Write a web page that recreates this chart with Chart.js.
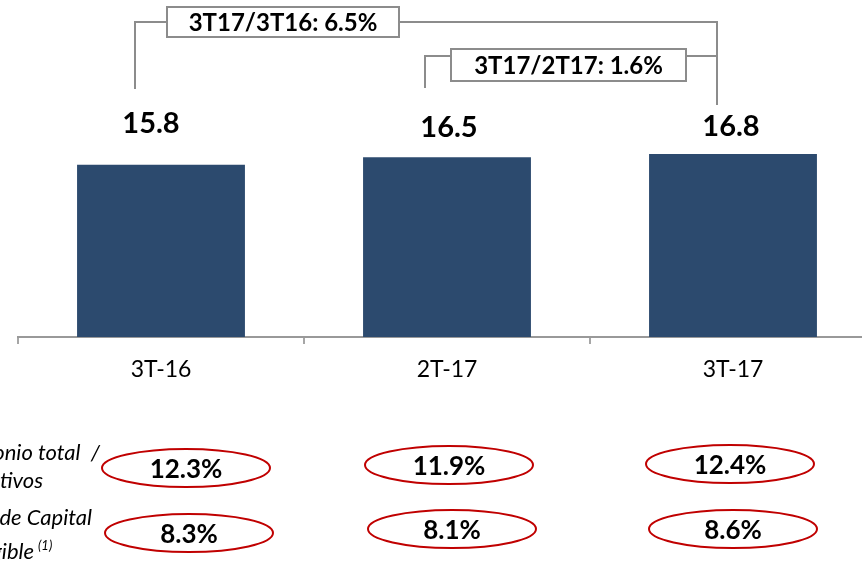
<!DOCTYPE html>
<html><head><meta charset="utf-8">
<script src="https://cdn.jsdelivr.net/npm/chart.js@4/dist/chart.umd.min.js"></script>
<style>
html,body{margin:0;padding:0;background:#fff;overflow:hidden;width:862px;height:564px}
#wrap{position:relative;width:880px;height:564px}
canvas{display:block}
</style></head><body>
<div id="wrap"><canvas id="c" width="880" height="564" style="width:880px;height:564px"></canvas></div>
<script>
// ---- data ----
const categories = ['3T-16', '2T-17', '3T-17'];
const values = [15.8, 16.5, 16.8];
const growthLabels = ['3T17/3T16: 6.5%', '3T17/2T17: 1.6%'];
const ratioEquity = [12.3, 11.9, 12.4];
const ratioCapital = [8.3, 8.1, 8.6];
const rowLabels = [['Patrimonio total  /', 'Activos'], ['Índice de Capital', 'Tangible']];
const footnoteMark = '(1)';

const annot = {
  id: 'annot',
  afterDraw(chart) {
    const ctx = chart.ctx;
    const xs = chart.scales.x, ys = chart.scales.y;
    const cx = i => xs.getPixelForValue(i);
    ctx.save();
    // bar value labels
    const ldx = [-10, 2, -2], lgap = [32, 20, 18];
    ctx.fillStyle = '#000';
    ctx.font = 'bold 29px Lato';
    ctx.textAlign = 'center';
    ctx.textBaseline = 'alphabetic';
    values.forEach((v, i) => {
      ctx.fillText(v.toFixed(1), cx(i) + ldx[i], ys.getPixelForValue(v) - lgap[i]);
    });
    // brackets
    ctx.strokeStyle = '#8c8c8c';
    ctx.lineWidth = 2;
    const rx = cx(2) - 16;
    const ax = cx(0) - 26, bx = cx(1) - 22;
    const ay = 22, by = 56;
    ctx.beginPath();
    ctx.moveTo(ax, 89); ctx.lineTo(ax, ay); ctx.lineTo(rx, ay); ctx.lineTo(rx, 105);
    ctx.moveTo(bx, 88); ctx.lineTo(bx, by); ctx.lineTo(rx, by);
    ctx.stroke();
    const boxes = [[ax + 32, 7, 232, 30, ay], [bx + 26, 49, 235, 32, by + 9]];
    ctx.font = 'bold 24px Lato';
    boxes.forEach((b, k) => {
      ctx.fillStyle = '#fff';
      ctx.fillRect(b[0], b[1], b[2], b[3]);
      ctx.strokeStyle = '#8c8c8c';
      ctx.strokeRect(b[0], b[1], b[2], b[3]);
      ctx.fillStyle = '#000';
      ctx.textBaseline = 'middle';
      ctx.fillText(growthLabels[k], b[0] + b[2] / 2, b[1] + b[3] / 2 + 1);
    });
    // ellipses
    const rows = [
      { vals: ratioEquity, dx: [25, 2, -3], y: [468, 465, 464] },
      { vals: ratioCapital, dx: [28, 5, 0], y: [533, 529, 529] }
    ];
    ctx.font = 'bold 26px Lato';
    rows.forEach(r => {
      r.vals.forEach((v, i) => {
        const ex = cx(i) + r.dx[i], ey = r.y[i];
        ctx.beginPath();
        ctx.ellipse(ex, ey, 84, 19, 0, 0, Math.PI * 2);
        ctx.strokeStyle = '#C00000';
        ctx.lineWidth = 2;
        ctx.stroke();
        ctx.fillStyle = '#000';
        ctx.textBaseline = 'middle';
        ctx.fillText(v.toFixed(1) + '%', ex, ey + 2);
      });
    });
    // left row labels (clipped at left edge)
    ctx.font = 'italic 22px Lato';
    ctx.textAlign = 'right';
    ctx.textBaseline = 'alphabetic';
    ctx.fillStyle = '#000';
    ctx.fillText(rowLabels[0][0], 100, 460);
    ctx.fillText(rowLabels[0][1], 43, 488);
    ctx.fillText(rowLabels[1][0], 92, 525);
    ctx.fillText(rowLabels[1][1], 34, 559);
    ctx.font = 'italic 13px Lato';
    ctx.textAlign = 'left';
    ctx.fillText(footnoteMark, 38, 550);
    ctx.restore();
  }
};

new Chart(document.getElementById('c'), {
  type: 'bar',
  data: {
    labels: categories,
    datasets: [{
      data: values,
      backgroundColor: '#2C4A6E',
      borderWidth: 0,
      categoryPercentage: 1,
      barPercentage: 0.587
    }]
  },
  options: {
    responsive: false,
    animation: false,
    events: [],
    layout: { padding: { top: 10, left: 18, right: 4, bottom: 177 } },
    plugins: { legend: { display: false }, tooltip: { enabled: false } },
    scales: {
      x: {
        grid: { display: true, drawOnChartArea: false, drawTicks: true, tickLength: 7, color: '#a6a6a6', lineWidth: 2, offset: true },
        border: { display: true, color: '#999999', width: 2 },
        ticks: { color: '#000', font: { family: 'Lato', size: 23 }, padding: 12 },
        afterFit(s) { s.height = 50; }
      },
      y: { display: false, min: 0, max: 30 }
    }
  },
  plugins: [annot]
});
</script>
</body></html>
